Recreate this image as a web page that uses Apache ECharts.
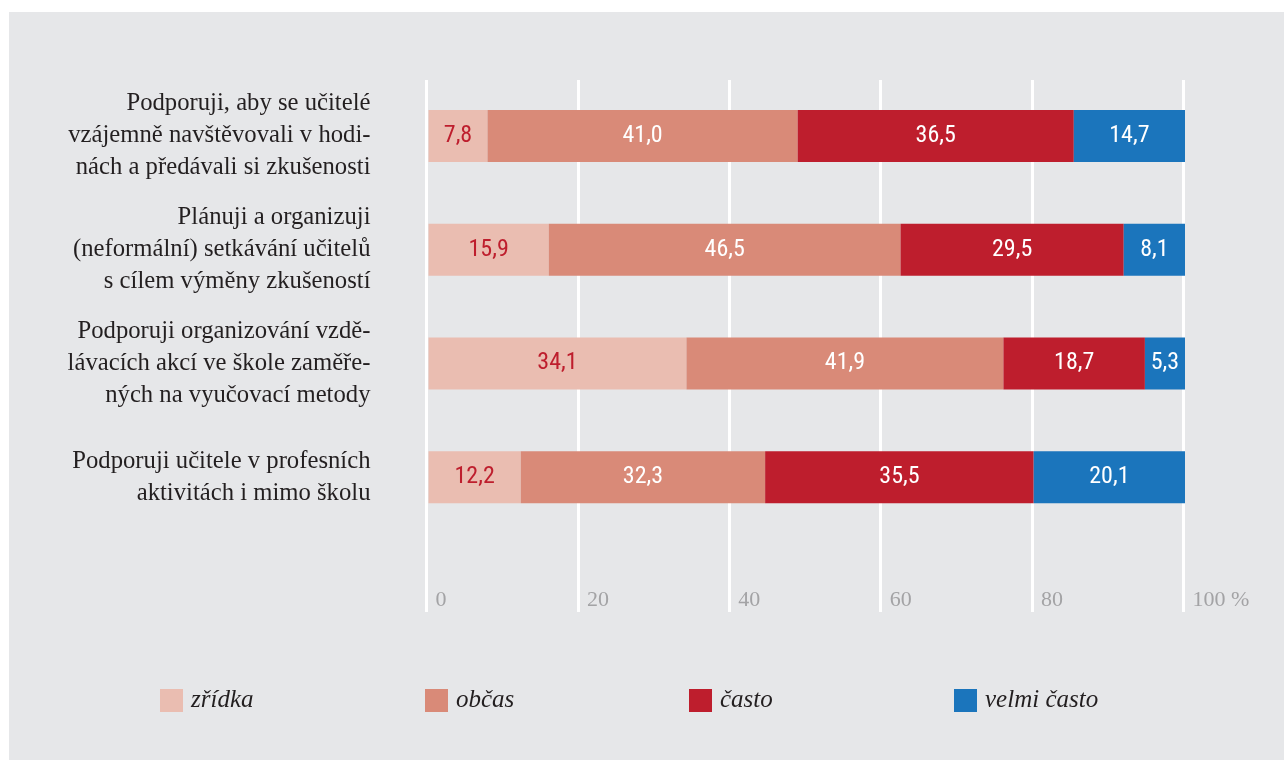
<!DOCTYPE html>
<html><head><meta charset="utf-8">
<script src="https://cdn.jsdelivr.net/npm/echarts@6/dist/echarts.min.js"></script>
<style>html,body{margin:0;padding:0;background:#fff;}#c{position:absolute;left:9px;top:12px;width:1275px;height:748px;background:#e6e7e9;}</style>
</head><body><div id="c"></div>
<script>
const categories = [
  'Podporuji, aby se učitelé\nvzájemně navštěvovali v hodi-\nnách a předávali si zkušenosti',
  'Plánuji a organizuji\n(neformální) setkávání učitelů\ns cílem výměny zkušeností',
  'Podporuji organizování vzdě-\nlávacích akcí ve škole zaměře-\nných na vyučovací metody',
  'Podporuji učitele v profesních\naktivitách i mimo školu'
];
const seriesNames = ['zřídka', 'občas', 'často', 'velmi často'];
const zridka = [7.8, 15.9, 34.1, 12.2];
const obcas = [41.0, 46.5, 41.9, 32.3];
const casto = [36.5, 29.5, 18.7, 35.5];
const velmiCasto = [14.7, 8.1, 5.3, 20.1];
const tickValues = [0, 20, 40, 60, 80, 100];

const colors = ['#eabdb1', '#d98a78', '#be1e2d', '#1b75bc'];
const labelColors = ['#be1e2d', '#ffffff', '#ffffff', '#ffffff'];
const OX = 9, OY = 12;
const chart = echarts.init(document.getElementById('c'));
const serif = "'Liberation Serif', 'DejaVu Serif', serif";
const narrow = "'Liberation Sans Narrow', 'Roboto Condensed', 'Noto Sans Condensed', 'DejaVu Sans Condensed', sans-serif";
const dataSets = [zridka, obcas, casto, velmiCasto];
const legendX = [160, 425, 689, 954];

chart.setOption({
  animation: false,
  backgroundColor: '#e6e7e9',
  grid: [
    {left: 426.5 - OX, width: 757, top: 80 - OY, height: 532, containLabel: false},
    {left: 428.5 - OX, width: 756.5, top: 79 - OY, height: 455, containLabel: false}
  ],
  xAxis: [
    {gridIndex: 0, type: 'value', min: 0, max: 100, interval: 20, position: 'bottom',
     axisLine: {show: false}, axisTick: {show: false},
     splitLine: {show: true, lineStyle: {color: '#ffffff', width: 3}},
     axisLabel: {inside: true, margin: 1, align: 'left', padding: [0, 0, 0, 9],
       fontFamily: serif, fontSize: 22, color: '#a3a3a5',
       formatter: v => tickValues.includes(v) ? (v === 100 ? '100 %' : String(v)) : ''}},
    {gridIndex: 1, type: 'value', min: 0, max: 100, show: false}
  ],
  yAxis: [
    {gridIndex: 0, type: 'value', show: false},
    {gridIndex: 1, type: 'category', data: categories, inverse: true,
     axisLine: {show: false}, axisTick: {show: false}, splitLine: {show: false},
     axisLabel: {margin: 58, align: 'right', fontFamily: serif, fontSize: 24.7, lineHeight: 32,
       padding: [4, 0, 0, 0], color: '#231f20'}}
  ],
  legend: seriesNames.map((n, i) => ({
    data: [n], left: legendX[i] - OX - 5, top: 688 - OY - 5, itemWidth: 23, itemHeight: 23, itemGap: 0,
    icon: 'rect', selectedMode: false,
    textStyle: {fontFamily: serif, fontStyle: 'italic', fontSize: 25, color: '#231f20', padding: [0, 0, 0, 3]}
  })),
  series: seriesNames.map((n, i) => ({
    name: n, type: 'bar', stack: 'total', xAxisIndex: 1, yAxisIndex: 1,
    barWidth: 52, data: dataSets[i],
    itemStyle: {color: colors[i]},
    label: {show: true, position: 'inside', color: labelColors[i], fontFamily: narrow, fontSize: 24,
      formatter: p => p.value.toFixed(1).replace('.', ',')}
  }))
});
</script></body></html>
